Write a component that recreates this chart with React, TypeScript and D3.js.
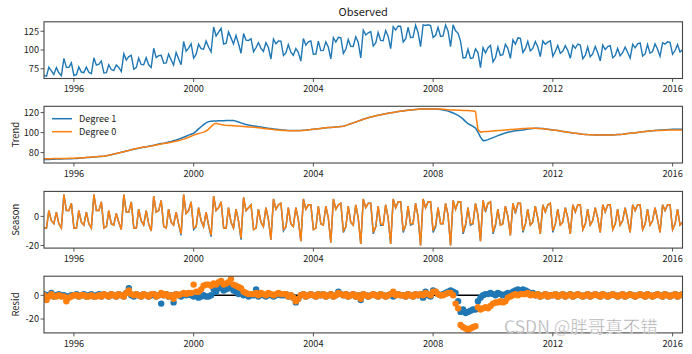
import React from "react";
import * as d3 from "d3";

// Monthly data, Jan 1995 – May 2016 (one row per year)
const observed = [
  66.0,65.1,77.2,72.3,67.4,76.5,69.6,65.7,88.8,76.8,76.9,82.9,
  66.0,67.2,77.4,70.6,69.8,77.0,70.2,68.4,89.6,79.8,81.0,85.2,
  69.3,69.8,80.3,73.9,72.5,80.1,76.7,71.3,94.9,86.6,91.2,92.8,
  74.3,76.8,89.3,80.8,80.3,89.8,80.3,76.8,102.3,89.9,92.5,93.0,
  82.3,82.9,94.5,87.1,79.9,96.6,88.4,80.3,111.3,98.4,102.5,108.4,
  89.3,94.5,107.7,101.9,101.0,111.8,104.0,97.4,130.6,118.7,123.8,128.8,
  107.9,109.0,124.1,116.2,108.1,119.5,108.6,95.7,121.9,113.2,112.6,115.1,
  97.7,103.3,109.9,102.5,98.1,109.7,103.3,88.0,114.7,108.4,112.1,111.8,
  92.6,96.4,107.2,97.1,93.0,102.0,97.0,85.1,115.3,106.5,110.8,112.0,
  94.3,94.6,111.9,99.2,99.5,110.8,104.0,88.2,116.4,110.6,116.8,116.1,
  95.4,101.2,114.0,104.8,104.7,117.6,110.5,89.4,126.3,120.1,122.9,124.6,
  105.2,109.8,123.4,112.9,112.4,125.9,118.4,101.8,131.2,126.6,132.0,131.4,
  110.7,115.0,130.3,116.6,116.9,133.1,123.3,104.5,133.6,132.7,133.7,132.7,
  116.7,119.6,130.4,118.1,118.7,133.2,125.5,104.6,133.6,125.5,122.2,111.6,
  89.5,90.0,101.0,88.6,89.3,101.5,96.5,76.5,103.0,96.2,103.0,106.0,
  84.0,90.0,104.0,92.9,93.8,107.6,102.3,88.9,113.4,107.8,116.1,115.4,
  96.7,102.1,111.5,98.8,102.1,111.3,104.3,91.2,112.0,107.7,110.4,112.1,
  91.7,98.4,106.0,95.6,98.2,105.8,99.4,89.0,106.6,102.3,108.0,106.7,
  88.4,93.2,104.0,90.9,94.8,104.7,96.6,85.6,106.6,100.6,104.6,105.7,
  89.7,92.8,102.0,92.2,96.4,103.7,97.0,89.3,107.6,102.9,108.2,109.5,
  91.8,95.1,107.4,95.7,97.9,108.1,101.3,91.5,109.7,107.9,111.0,110.2,
  94.3,99.3,107.3,97.3,100.3,
];

const trendDeg1 = [
  73.0,73.1,73.2,73.3,73.4,73.5,73.6,73.7,73.8,73.8,73.9,73.9,
  74.0,74.2,74.4,74.6,74.8,75.0,75.2,75.4,75.6,75.8,76.0,76.2,
  76.3,76.8,77.3,77.9,78.5,79.1,79.7,80.3,80.9,81.6,82.2,82.8,
  83.3,83.8,84.3,84.8,85.3,85.8,86.3,86.8,87.3,87.9,88.5,89.0,
  89.3,89.9,90.5,91.1,91.9,92.6,93.4,94.3,95.3,96.4,97.5,98.4,
  99.3,101.5,103.7,105.9,108.0,109.8,111.0,111.4,111.6,111.7,111.8,111.8,
  111.9,112.0,112.1,112.2,112.1,111.5,110.6,109.7,108.9,108.2,107.6,107.1,
  106.7,106.3,105.9,105.5,105.1,104.7,104.3,104.0,103.7,103.4,103.1,102.8,
  102.6,102.4,102.2,102.1,102.0,102.0,102.0,102.1,102.3,102.5,102.8,103.0,
  103.3,103.6,103.9,104.2,104.5,104.8,105.0,105.2,105.4,105.6,105.8,106.1,
  106.4,107.2,108.0,108.8,109.7,110.6,111.5,112.4,113.3,114.1,114.9,115.6,
  116.2,116.8,117.4,117.9,118.4,118.9,119.4,119.8,120.2,120.6,121.0,121.4,
  121.7,122.0,122.3,122.6,122.9,123.1,123.3,123.5,123.6,123.7,123.7,123.7,
  123.7,123.6,123.4,123.1,122.7,122.2,121.5,120.6,119.6,118.5,117.2,115.6,
  113.5,111.0,109.0,107.6,106.3,104.5,100.5,95.5,92.0,92.2,93.0,94.0,
  95.0,96.0,97.0,97.9,98.8,99.6,100.3,100.9,101.4,101.8,102.1,102.4,
  102.7,103.1,103.5,103.8,104.1,104.3,104.3,104.2,104.0,103.7,103.4,103.1,
  102.7,102.4,102.0,101.6,101.2,100.8,100.4,100.0,99.6,99.3,99.0,98.7,
  98.4,98.2,98.0,97.9,97.8,97.7,97.6,97.6,97.6,97.6,97.6,97.7,
  97.7,97.8,98.0,98.2,98.4,98.7,99.0,99.3,99.6,99.9,100.2,100.5,
  100.8,101.1,101.4,101.7,101.9,102.1,102.3,102.5,102.7,102.9,103.0,103.2,
  103.3,103.3,103.3,103.3,103.3,
];

const trendDeg0 = [
  73.8,73.8,73.9,73.9,74.0,74.0,74.1,74.1,74.2,74.2,74.3,74.3,
  74.4,74.5,74.6,74.7,74.9,75.1,75.3,75.5,75.7,75.9,76.1,76.3,
  76.3,76.8,77.3,77.9,78.5,79.1,79.7,80.3,80.9,81.6,82.2,82.8,
  83.5,84.0,84.6,85.1,85.5,85.9,86.2,86.6,87.0,87.5,88.0,88.6,
  89.0,89.4,89.8,90.3,90.8,91.4,92.0,92.7,93.5,94.4,95.4,96.4,
  97.5,98.3,99.0,99.7,100.5,101.6,103.5,106.0,108.5,109.3,108.6,108.0,
  107.6,107.3,107.1,107.0,106.9,106.7,106.5,106.3,106.1,105.9,105.7,105.5,
  105.3,105.1,104.8,104.5,104.2,103.9,103.6,103.3,103.0,102.7,102.5,102.3,
  102.1,102.0,101.9,101.8,101.8,101.8,101.9,102.0,102.2,102.4,102.7,103.0,
  103.3,103.6,103.9,104.2,104.5,104.8,105.0,105.2,105.4,105.6,105.8,106.1,
  106.4,107.2,108.0,108.8,109.7,110.6,111.5,112.4,113.3,114.1,114.9,115.6,
  116.2,116.8,117.4,117.9,118.4,118.9,119.4,119.8,120.2,120.6,121.0,121.4,
  121.7,122.0,122.3,122.6,122.9,123.1,123.3,123.5,123.6,123.7,123.7,123.7,
  123.7,123.7,123.6,123.5,123.3,123.1,122.9,122.7,122.6,122.5,122.4,122.3,
  122.2,122.1,122.0,121.9,121.7,121.3,103.0,100.5,100.8,101.0,101.2,101.4,
  101.6,101.8,102.0,102.2,102.4,102.6,102.8,103.0,103.2,103.4,103.6,103.8,
  104.0,104.2,104.3,104.4,104.4,104.3,104.2,104.0,103.8,103.5,103.2,102.9,
  102.7,102.4,102.0,101.6,101.2,100.8,100.4,100.0,99.6,99.3,99.0,98.7,
  98.4,98.2,98.0,97.9,97.8,97.7,97.6,97.6,97.6,97.6,97.6,97.7,
  97.7,97.8,98.0,98.2,98.4,98.7,99.0,99.3,99.6,99.9,100.2,100.5,
  100.8,101.1,101.4,101.6,101.8,102.0,102.1,102.2,102.3,102.4,102.5,102.5,
  102.6,102.6,102.6,102.7,102.7,
];

const seasonDeg1 = [
  -8,-8,4,-3,-5,3,-5,-8,15,4,4,9,
  -8,-8,4,-4,-6,3,-5,-8,15,4,4,10,
  -8,-7,4,-5,-6,2,-4,-9,15,3,3,10,
  -8,-8,5,-3,-6,4,-5,-10,14,3,4,11,
  -7,-8,5,-4,-6,3,-5,-13,15,2,4,10,
  -9,-7,6,-3,-7,3,-6,-14,14,4,6,10,
  -8,-8,6,-4,-8,5,-3,-16,13,4,6,8,
  -9,-8,5,-4,-7,6,-2,-16,12,5,8,9,
  -10,-7,6,-5,-7,6,-2,-17,12,5,8,8,
  -9,-8,7,-5,-6,7,-1,-18,12,5,8,9,
  -11,-7,7,-4,-6,8,-1,-19,12,6,9,9,
  -12,-7,7,-6,-6,8,-1,-19,12,6,10,10,
  -11,-6,7,-6,-5,9,0,-20,12,6,10,10,
  -11,-7,6,-5,-5,9,1,-20,11,5,10,10,
  -12,-6,6,-6,-5,9,1,-17,11,3,9,10,
  -12,-6,5,-6,-5,7,0,-13,9,2,9,9,
  -11,-5,5,-6,-4,7,-1,-12,8,3,8,9,
  -11,-5,5,-6,-4,6,-1,-12,8,3,8,8,
  -9,-5,5,-6,-3,6,-1,-11,8,3,8,8,
  -9,-5,5,-6,-3,6,-2,-11,8,4,8,8,
  -9,-5,5,-6,-3,6,-2,-11,8,4,8,8,
  -9,-5,5,-6,-4,
];

const seasonDeg0 = [
  -8,-8,4,-3,-5,3,-5,-8,15,4,4,9,
  -8,-8,4,-4,-6,3,-5,-8,15,4,4,10,
  -8,-7,4,-5,-6,2,-4,-9,15,3,3,10,
  -8,-8,5,-3,-6,4,-5,-10,14,3,4,11,
  -7,-8,5,-4,-6,3,-5,-12,15,2,4,10,
  -8,-7,6,-3,-7,3,-6,-13,14,4,6,10,
  -8,-8,6,-4,-8,5,-3,-15,13,4,6,8,
  -9,-8,5,-4,-7,6,-2,-16,12,5,8,9,
  -9,-7,6,-5,-7,6,-2,-17,12,5,8,8,
  -9,-8,7,-5,-6,7,-1,-18,12,5,8,9,
  -10,-7,7,-4,-6,8,-1,-19,12,6,9,9,
  -11,-7,7,-5,-6,8,-1,-19,12,6,10,10,
  -10,-6,7,-5,-5,9,0,-20,12,6,10,10,
  -10,-6,6,-5,-5,9,1,-20,11,5,10,10,
  -11,-5,6,-5,-5,9,1,-17,11,4,9,10,
  -11,-5,5,-6,-5,7,0,-13,9,3,9,9,
  -10,-5,5,-6,-4,7,-1,-12,8,3,8,9,
  -10,-5,5,-6,-4,6,-1,-12,8,3,8,8,
  -9,-5,5,-6,-3,6,-1,-11,8,3,8,8,
  -9,-5,5,-6,-3,6,-2,-11,8,4,8,8,
  -9,-5,5,-6,-3,6,-2,-11,8,4,8,8,
  -9,-5,5,-6,-4,
];

const residDeg1 = [
  1,0,0,2,-1,0,1,0,0,-1,-1,0,
  0,1,-1,0,1,-1,0,1,-1,0,1,-1,
  1,0,-1,1,0,-1,1,0,-1,2,6,0,
  -1,1,0,-1,1,0,-1,0,1,-1,0,-7,
  0,1,-1,0,-6,1,0,-1,1,0,1,0,
  -1,0,-2,-1,0,-1,-1,0,5,3,6,7,
  4,5,6,8,4,3,1,2,0,1,-1,0,
  0,5,-1,1,0,-1,1,0,-1,0,1,0,
  0,1,-1,0,-2,-6,-3,0,1,-1,0,1,
  0,-1,1,0,1,-1,0,1,-1,0,3,1,
  0,1,-1,0,1,-1,0,-4,1,0,-1,0,
  1,0,-1,1,0,-1,0,1,-1,0,1,0,
  0,-1,1,0,-1,1,0,1,-2,3,0,-1,
  4,3,1,0,1,2,3,4,3,2,-5,-14,
  -12,-15,-14,-13,-12,-12,-5,-2,0,1,1,2,
  1,0,2,1,0,1,2,1,3,4,5,4,
  5,4,3,1,2,0,1,-1,0,1,-1,0,
  0,1,-1,0,1,-1,0,1,-1,0,1,0,
  -1,0,1,-1,0,1,0,-1,1,0,-1,0,
  1,0,-1,0,1,-1,0,1,0,-1,0,1,
  0,-1,1,0,-1,0,1,0,-1,1,0,-1,
  0,1,-1,0,1,
];

const residDeg0 = [
  0,-4,-1,1,-1,-1,0,-1,-1,-5,-2,-1,
  0,0,-1,0,0,-1,-1,0,-1,-1,0,-1,
  1,0,-1,1,0,-1,1,0,-1,2,4,1,
  0,1,0,-1,1,0,-1,1,1,-1,0,2,
  0,1,-1,0,-3,1,0,1,2,1,2,2,
  9,3,3,5,8,9,9,8,10,9,11,12,
  9,10,11,14,9,8,7,6,3,2,1,1,
  1,2,0,2,1,0,2,1,0,1,2,1,
  1,1,-1,0,-2,-5,-3,0,1,-1,0,1,
  0,-1,1,0,1,-1,0,1,-1,0,2,1,
  0,1,-1,0,1,-1,0,-3,1,0,-1,0,
  1,0,-1,1,0,-1,0,1,3,0,1,0,
  0,-1,1,0,-1,1,0,1,0,2,1,0,
  3,3,1,0,0,1,2,2,0,-7,-11,-25,
  -27,-28,-29,-28,-27,-26,-10,-12,-11,-10,-11,-9,
  -7,-6,-6,-5,-6,-5,-2,-1,0,1,0,1,
  1,1,2,0,1,0,1,-1,0,1,-1,0,
  0,1,-1,0,1,-1,0,1,-1,0,1,0,
  -1,0,1,-1,0,1,0,-1,1,0,-1,0,
  1,0,-1,0,1,-1,0,1,0,-1,0,1,
  0,-1,1,0,-1,0,1,0,-1,1,0,-1,
  0,1,-1,0,1,
];

const months = d3.timeMonth.range(new Date(1995, 0, 1), new Date(2016, 5, 1));
const tickYears = [1996, 2000, 2004, 2008, 2012, 2016];
const obsTicks = [75, 100, 125];
const trendTicks = [80, 100, 120];
const seasonTicks = [-20, 0];
const residTicks = [-20, 0];
const legendLabels = ["Degree 1", "Degree 0"];

const BLUE = "#1f77b4";
const ORANGE = "#ff7f0e";
const FONT = "'Noto Sans CJK SC', 'DejaVu Sans', sans-serif";

const W = 692, H = 354;
const L = 44, R = 682.5;
const PH = 56.7;
const tops = [21.8, 106.3, 191.4, 276.2];

const x = d3.scaleTime().domain([months[0], months[months.length - 1]]).range([L, R]);

function Panel({ top, domain, ticks, label, idx, children }: any) {
  const y = d3.scaleLinear().domain(domain).range([top + PH, top]);
  return (
    <g>
      <defs>
        <clipPath id={"clip" + idx}>
          <rect x={L} y={top} width={R - L} height={PH} />
        </clipPath>
      </defs>
      <g clipPath={`url(#clip${idx})`}>{children(y)}</g>
      <rect x={L} y={top} width={R - L} height={PH} fill="none" stroke="#444" strokeWidth={1.1} />
      {tickYears.map((yr) => {
        const xx = x(new Date(yr, 0, 1));
        return (
          <g key={yr}>
            <line x1={xx} x2={xx} y1={top + PH} y2={top + PH + 3.5} stroke="#444" strokeWidth={0.9} />
            <text x={xx} y={top + PH + 13.8} textAnchor="middle" fontSize={9.2} fontFamily={FONT} fill="#222">
              {yr}
            </text>
          </g>
        );
      })}
      {ticks.map((t: number) => (
        <g key={t}>
          <line x1={L - 3.5} x2={L} y1={y(t)} y2={y(t)} stroke="#444" strokeWidth={0.9} />
          <text x={L - 5} y={y(t) + 3.3} textAnchor="end" fontSize={9.2} fontFamily={FONT} fill="#222">
            {t}
          </text>
        </g>
      ))}
      {label && (
        <text
          transform={`translate(${15.5},${top + PH / 2}) rotate(-90)`}
          textAnchor="middle"
          dy="0.35em"
          fontSize={9.5}
          fontFamily={FONT}
          fill="#222"
        >
          {label}
        </text>
      )}
    </g>
  );
}

export default function App() {
  const lineOf = (vals: number[], y: any) =>
    d3.line<number>().x((_, i) => x(months[i])).y((d) => y(d))(vals) || "";

  return (
    <svg width={W} height={H} style={{ position: "absolute", left: 0, top: 0, background: "#fff" }}>
      <rect width={W} height={H} fill="#fff" />
      <text x={(L + R) / 2} y={16.3} textAnchor="middle" fontSize={11} fontFamily={FONT} fill="#222">
        Observed
      </text>
      <Panel top={tops[0]} domain={[62, 137.6]} ticks={obsTicks} idx={0}>
        {(y: any) => <path d={lineOf(observed, y)} fill="none" stroke={BLUE} strokeWidth={1.4} />}
      </Panel>
      <Panel top={tops[1]} domain={[69.6, 126.3]} ticks={trendTicks} label="Trend" idx={1}>
        {(y: any) => (
          <g>
            <path d={lineOf(trendDeg1, y)} fill="none" stroke={BLUE} strokeWidth={1.5} />
            <path d={lineOf(trendDeg0, y)} fill="none" stroke={ORANGE} strokeWidth={1.5} />
          </g>
        )}
      </Panel>
      <Panel top={tops[2]} domain={[-21.8, 17.2]} ticks={seasonTicks} label="Season" idx={2}>
        {(y: any) => (
          <g>
            <path d={lineOf(seasonDeg1, y)} fill="none" stroke={BLUE} strokeWidth={1.5} />
            <path d={lineOf(seasonDeg0, y)} fill="none" stroke={ORANGE} strokeWidth={1.5} />
          </g>
        )}
      </Panel>
      <Panel top={tops[3]} domain={[-31.7, 16.1]} ticks={residTicks} label="Resid" idx={3}>
        {(y: any) => (
          <g>
            <line x1={L} x2={R} y1={y(0)} y2={y(0)} stroke="#000" strokeWidth={1.4} />
            {residDeg1.map((v, i) => (
              <circle key={"b" + i} cx={x(months[i])} cy={y(v)} r={3.2} fill={BLUE} />
            ))}
            {residDeg0.map((v, i) => (
              <circle key={"o" + i} cx={x(months[i])} cy={y(v)} r={3.2} fill={ORANGE} />
            ))}
          </g>
        )}
      </Panel>
      {legendLabels.map((lab, i) => (
        <g key={lab}>
          <line x1={52} x2={72} y1={118.7 + i * 13} y2={118.7 + i * 13} stroke={i === 0 ? BLUE : ORANGE} strokeWidth={1.5} />
          <text x={79} y={122 + i * 13} fontSize={9.2} fontFamily={FONT} fill="#222">
            {lab}
          </text>
        </g>
      ))}
      <text x={504} y={332.5} fontSize={17.5} fontFamily={FONT} fill="#9a9a9a" fillOpacity={0.85} stroke="#fff" strokeWidth={0.4}>
        CSDN @胖哥真不错
      </text>
    </svg>
  );
}
